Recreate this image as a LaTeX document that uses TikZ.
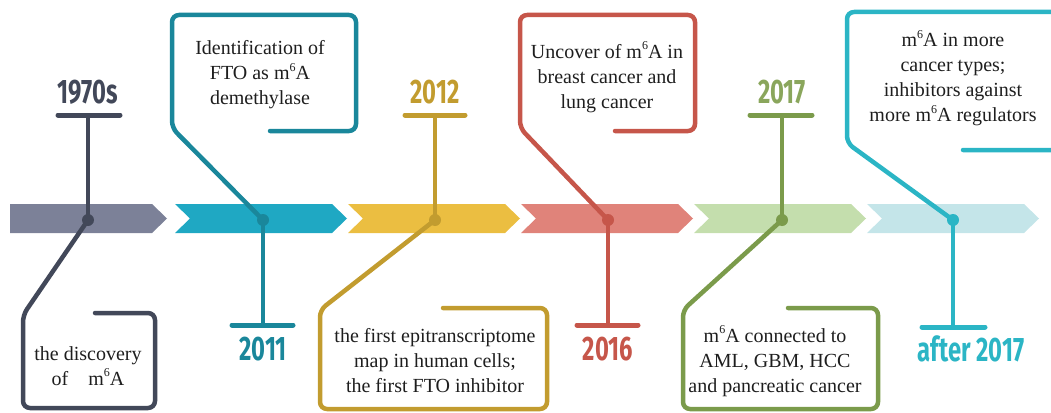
\documentclass[tikz,border=0pt]{standalone}
\usepackage{fontspec}
\setmainfont{Liberation Serif}
\newfontfamily\descfont{Liberation Serif}
\newfontfamily\yearfont{Fira Sans}
\usepackage{graphicx}
\definecolor{cA}{HTML}{424859}\definecolor{bA}{HTML}{7C8198}
\definecolor{cB}{HTML}{1A879B}\definecolor{bB}{HTML}{1FA8C3}
\definecolor{cC}{HTML}{C29C2F}\definecolor{bC}{HTML}{EBBE41}
\definecolor{cD}{HTML}{C6564A}\definecolor{bD}{HTML}{E0837A}
\definecolor{cE}{HTML}{7B9B4B}\definecolor{bE}{HTML}{C4DEAD}\definecolor{yE}{HTML}{8AA65C}
\definecolor{cF}{HTML}{2BB5C5}\definecolor{bF}{HTML}{C4E5E9}
\definecolor{txt}{HTML}{1E1E1E}
\tikzset{
  callout/.style={line width=4.5pt, rounded corners=7pt, line join=round, line cap=round},
  stem/.style={line width=4.5pt},
  yearbar/.style={line width=5pt, line cap=round},
  dotnode/.style={circle, inner sep=0pt, minimum size=12pt},
  desc/.style={text=txt, font=\descfont\fontsize{20}{25}\selectfont, align=center, inner sep=0pt},
  year/.style={font=\yearfont\bfseries\fontsize{34}{34}\selectfont, inner sep=0pt},
}
\newcommand{\yr}[1]{\scalebox{0.7}[1]{#1}}
\newcommand{\msix}{m\raisebox{0.42em}{\fontsize{12}{12}\selectfont 6}A}
\begin{document}
\begin{tikzpicture}[x=1pt,y=-1pt]
\useasboundingbox (0,0) rectangle (1051,412);
\clip (0,0) rectangle (1051,412);
% band
\fill[bA] (10,204) -- (152,204) -- (167,218.5) -- (152,233) -- (10,233) -- cycle;
\fill[bB] (175,204) -- (332,204) -- (347,218.5) -- (332,233) -- (175,233) -- (190,218.5) -- cycle;
\fill[bC] (348,204) -- (505,204) -- (520,218.5) -- (505,233) -- (348,233) -- (363,218.5) -- cycle;
\fill[bD] (521,204) -- (678,204) -- (693,218.5) -- (678,233) -- (521,233) -- (536,218.5) -- cycle;
\fill[bE] (694,204) -- (851,204) -- (866,218.5) -- (851,233) -- (694,233) -- (709,218.5) -- cycle;
\fill[bF] (867,204) -- (1024,204) -- (1039,218.5) -- (1024,233) -- (867,233) -- (882,218.5) -- cycle;

% ---- 1970s
\node[dotnode, fill=cA] (d1) at (88,220) {};
\coordinate (b1l) at (58,115); \coordinate (b1r) at (120,115); \coordinate (b1) at (88,115);
\draw[yearbar, cA] (b1l) -- (b1r);
\draw[stem, cA] (b1) -- (d1.center);
\node[year, text=cA] (y1) at (88,92) {\yr{1970s}};
\draw[callout, cA] (95,313) -- (155,313) -- (155,408) -- (23,408) -- (23,315) -- (d1.center);
\node[desc] (t1) at (88,366) {the discovery\\of\quad \msix};

% ---- 2011
\node[dotnode, fill=cB] (d2) at (263,220) {};
\coordinate (b2l) at (232,325); \coordinate (b2r) at (293,325); \coordinate (b2) at (263,325);
\draw[yearbar, cB] (b2l) -- (b2r);
\draw[stem, cB] (b2) -- (d2.center);
\node[year, text=cB] (y2) at (263,349) {\yr{2011}};
\draw[callout, cB] (270,131) -- (356,131) -- (356,15) -- (172,15) -- (172,128) -- (d2.center);
\node[desc] (t2) at (260,75) {Identification of\\FTO as \msix\\demethylase};

% ---- 2012
\node[dotnode, fill=cC] (d3) at (435,220) {};
\coordinate (b3l) at (405,115); \coordinate (b3r) at (465,115); \coordinate (b3) at (435,115);
\draw[yearbar, cC] (b3l) -- (b3r);
\draw[stem, cC] (b3) -- (d3.center);
\node[year, text=cC] (y3) at (435,92) {\yr{2012}};
\draw[callout, cC] (443,308) -- (547,308) -- (547,409) -- (320,409) -- (320,310) -- (d3.center);
\node[desc] (t3) at (435,361) {the first epitranscriptome\\map in human cells;\\the first FTO inhibitor};

% ---- 2016
\node[dotnode, fill=cD] (d4) at (608,220) {};
\coordinate (b4l) at (577,325); \coordinate (b4r) at (638,325); \coordinate (b4) at (608,325);
\draw[yearbar, cD] (b4l) -- (b4r);
\draw[stem, cD] (b4) -- (d4.center);
\node[year, text=cD] (y4) at (608,349) {\yr{2016}};
\draw[callout, cD] (615,131) -- (695,131) -- (695,15) -- (520,15) -- (520,128) -- (d4.center);
\node[desc] (t4) at (607,77) {Uncover of \msix\ in\\breast cancer and\\lung cancer};

% ---- 2017
\node[dotnode, fill=cE] (d5) at (782,220) {};
\coordinate (b5l) at (750,115); \coordinate (b5r) at (812,115); \coordinate (b5) at (782,115);
\draw[yearbar, cE] (b5l) -- (b5r);
\draw[stem, cE] (b5) -- (d5.center);
\node[year, text=yE] (y5) at (782,92) {\yr{2017}};
\draw[callout, cE] (788,308) -- (878,308) -- (878,409) -- (683,409) -- (683,310) -- (d5.center);
\node[desc] (t5) at (775,361) {\msix\ connected to\\AML, GBM, HCC\\and pancreatic cancer};

% ---- after 2017
\node[dotnode, fill=cF] (d6) at (953,220) {};
\coordinate (b6l) at (922,327); \coordinate (b6r) at (985,327); \coordinate (b6) at (953,327);
\draw[yearbar, cF] (b6l) -- (b6r);
\draw[stem, cF] (b6) -- (d6.center);
\node[year, text=cF] (y6) at (971,349) {\yr{after 2017}};
\draw[callout, cF] (963,150) -- (1075,150) -- (1075,12) -- (847,12) -- (847,143) -- (d6.center);
\node[desc] (t6) at (953,78) {\msix\ in more\\cancer types;\\inhibitors against\\more \msix\ regulators};
\end{tikzpicture}
\end{document}
